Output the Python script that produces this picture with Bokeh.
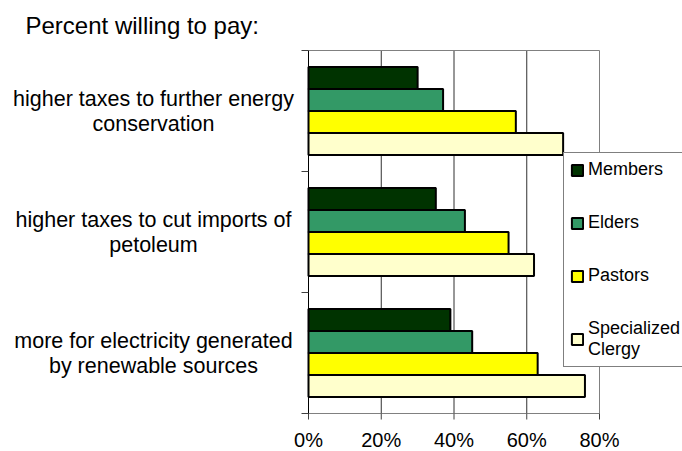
import numpy as np
from bokeh.plotting import figure
from bokeh.models import Range1d, ColumnDataSource
from bokeh.core.properties import value
from bokeh.embed import file_html
from bokeh.resources import INLINE

# ---- data ----
title_text = "Percent willing to pay:"
categories = [
    ["higher taxes to further energy", "conservation"],
    ["higher taxes to cut imports of", "petoleum"],
    ["more for electricity generated", "by renewable sources"],
]
series = ["Members", "Elders", "Pastors", "Specialized\nClergy"]
members = [30, 35, 39]
elders = [37, 43, 45]
pastors = [57, 55, 63]
clergy = [70, 62, 76]
values = [members, elders, pastors, clergy]
colors = ["#003300", "#339966", "#FFFF00", "#FFFFCC"]
x_ticks = [0, 20, 40, 60, 80]
x_tick_labels = ["0%", "20%", "40%", "60%", "80%"]

# ---- layout (pixels) ----
W, H = 682, 451
PL, PR, PT, PB = 308, 599, 50, 413     # plot area edges
XMAX = x_ticks[-1]
n = len(categories)
kx = XMAX / (PR - PL)
ky = n / (PB - PT)
x0 = -PL * kx
x1 = XMAX + (W - PR) * kx
y0 = -(H - PB) * ky
y1 = n + PT * ky

def px2x(px):
    return x0 + px * kx

def px2y(py):
    return y1 - py * ky

FONT = "Liberation Sans"
bar_h = 22 * ky

p = figure(width=W, height=H, output_backend="svg", toolbar_location=None,
           x_range=Range1d(x0, x1), y_range=Range1d(y0, y1),
           x_axis_location=None, y_axis_location=None,
           min_border=0, min_border_left=0, min_border_right=0,
           min_border_top=0, min_border_bottom=0)
p.background_fill_color = "white"
p.border_fill_color = "white"
p.outline_line_color = None
p.grid.visible = False

# vertical gridlines
gx = x_ticks[1:-1]
p.segment(x0=gx, y0=[0] * len(gx), x1=gx, y1=[n] * len(gx),
          line_color="#303030", line_width=1)
# plot-area border (top and right)
p.segment(x0=[0, XMAX], y0=[n, 0], x1=[XMAX, XMAX], y1=[n, n],
          line_color="#808080", line_width=1)

# bars
centers = n - np.arange(n) - 0.5
offsets = [1.5, 0.5, -0.5, -1.5]
for s, vals, col, off in zip(series, values, colors, offsets):
    src = ColumnDataSource(dict(y=centers + off * bar_h, right=vals))
    p.hbar(y="y", right="right", left=0, height=bar_h, source=src,
           fill_color=col, line_color="black", line_width=2, legend_label=s)

# bottom axis: line and ticks
p.segment(x0=[-6 * kx], y0=[0], x1=[XMAX], y1=[0], line_color="#808080", line_width=1)
p.segment(x0=x_ticks, y0=[0] * len(x_ticks), x1=x_ticks, y1=[-6 * ky] * len(x_ticks),
          line_color="#404040", line_width=1)
# left axis: line and ticks at category boundaries
bnd = list(range(n + 1))
p.segment(x0=[0], y0=[0], x1=[0], y1=[n], line_color="black", line_width=1)
p.segment(x0=[-7 * kx] * len(bnd), y0=bnd, x1=[0] * len(bnd), y1=bnd,
          line_color="#404040", line_width=1)

# x tick labels
p.text(x=x_ticks, y=[px2y(439)] * len(x_ticks), text=x_tick_labels,
       text_font=value(FONT), text_font_size=value("20px"), text_color="black",
       text_align="center", text_baseline="middle")

# category labels
lx, ly, lt = [], [], []
for yc, lines in zip(centers, categories):
    k = len(lines)
    for j, line in enumerate(lines):
        dy = ((k - 1) / 2 - j) * 25 * ky
        lx.append(px2x(153))
        ly.append(yc + dy)
        lt.append(line)
p.text(x=lx, y=ly, text=lt, text_font=value(FONT), text_font_size=value("21.5px"),
       text_color="black", text_align="center", text_baseline="middle")

# title
p.text(x=[px2x(25)], y=[px2y(25)], text=[title_text], text_font=value(FONT),
       text_font_size=value("24px"), text_color="black",
       text_align="left", text_baseline="middle")

# legend
lg = p.legend[0]
lg.location = (563, H - 367)
lg.label_text_font = FONT
lg.label_text_font_size = "18px"
lg.label_text_color = "black"
lg.label_text_line_height = 1.25
lg.glyph_width = 14
lg.glyph_height = 14
lg.label_standoff = 4
lg.label_height = 20
lg.spacing = 32
lg.padding = 6
lg.margin = 0
lg.border_line_color = "black"
lg.border_line_width = 1
lg.background_fill_color = "white"
lg.background_fill_alpha = 1

open("out.html", "w").write(file_html(p, INLINE))
